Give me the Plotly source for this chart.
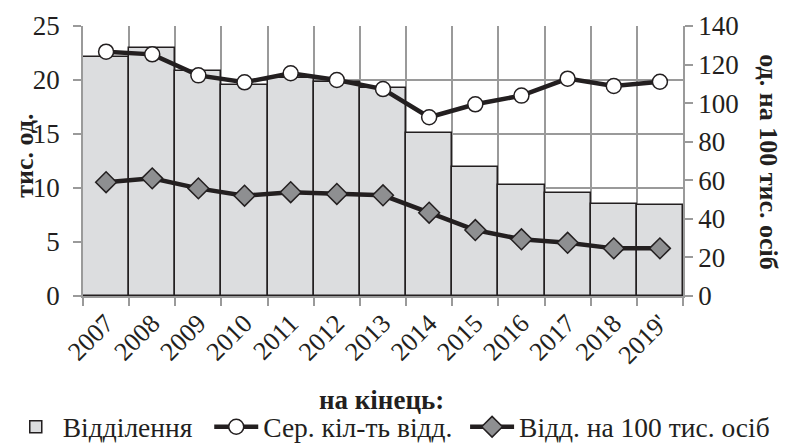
import plotly.graph_objects as go

years = ["2007", "2008", "2009", "2010", "2011", "2012", "2013",
         "2014", "2015", "2016", "2017", "2018", "2019'"]
branches = [22.1, 23.0, 20.8, 19.5, 20.2, 19.8, 19.3, 15.1, 11.9, 10.3, 9.5, 8.5, 8.45]
avg_branches = [126.7, 125.3, 114.4, 110.8, 115.5, 112.0, 107.3, 92.7, 99.4, 103.9, 112.7, 108.9, 111.1]
per_100k = [59.0, 61.0, 55.8, 52.0, 53.8, 52.9, 52.2, 43.2, 34.2, 29.4, 27.6, 24.7, 24.7]

FONT = "Liberation Serif"
INK = "#231f20"
GRID = "#9a9a9a"

fig = go.Figure()
fig.add_trace(go.Bar(
    x=years, y=branches, name="Відділення",
    marker=dict(color="#dcdddf", line=dict(color=INK, width=1.5)),
    yaxis="y", legend="legend",
))
fig.add_trace(go.Scatter(
    x=years, y=avg_branches, name="Сер. кіл-ть відд.", mode="lines+markers",
    line=dict(color=INK, width=4.5),
    marker=dict(symbol="circle", size=15, color="white", line=dict(color=INK, width=1.5)),
    yaxis="y2", legend="legend2",
))
fig.add_trace(go.Scatter(
    x=years, y=per_100k, name="Відд. на 100 тис. осіб", mode="lines+markers",
    line=dict(color=INK, width=4.5),
    marker=dict(symbol="diamond", size=16, color="#8e8f91", line=dict(color=INK, width=1.5)),
    yaxis="y2", legend="legend3",
))

def leg(x):
    return dict(orientation="h", x=x, xanchor="left", xref="container",
                y=0.048, yanchor="middle", yref="container",
                font=dict(family=FONT, size=27.5, color=INK),
                itemwidth=44, bgcolor="rgba(0,0,0,0)", borderwidth=0)

# page body has an 8px margin; figure is sized so the page layout matches
fig.update_layout(
    width=780, height=440,
    margin=dict(l=75, r=105, t=18, b=152, autoexpand=False),
    paper_bgcolor="white", plot_bgcolor="white",
    bargap=0,
    font=dict(family=FONT, size=26, color=INK),
    showlegend=True,
    legend=leg(0.001), legend2=leg(0.258), legend3=leg(0.586),
    xaxis=dict(type="category", tickson="boundaries", range=[-0.5, 12.5],
               showgrid=True, gridcolor=GRID,
               gridwidth=1.5, showline=True, linecolor=GRID, linewidth=1.5,
               ticks="outside", ticklen=8, tickcolor=GRID, tickwidth=1.5,
               tickangle=-45, tickfont=dict(family=FONT, size=26), mirror=False),
    yaxis=dict(range=[0, 25], dtick=5, showgrid=True, gridcolor=GRID, gridwidth=1.5,
               showline=True, linecolor=GRID, linewidth=1.5,
               ticks="outside", ticklen=8, tickcolor=GRID, tickwidth=1.5,
               ticklabelstandoff=8,
               tickfont=dict(family=FONT, size=27), zeroline=False),
    yaxis2=dict(range=[0, 140], dtick=20, overlaying="y", side="right", showgrid=False,
                showline=True, linecolor=GRID, linewidth=1.5,
                ticks="outside", ticklen=8, tickcolor=GRID, tickwidth=1.5,
                tickfont=dict(family=FONT, size=27), zeroline=False),
)

fig.add_annotation(text="<b>тис. од.</b>", xref="paper", yref="paper",
                   x=-0.098, y=0.52, xanchor="center", yanchor="middle",
                   textangle=-90, showarrow=False, font=dict(family=FONT, size=26))
fig.add_annotation(text="<b>од. на 100 тис. осіб</b>", xref="paper", yref="paper",
                   x=1.143, y=0.496, xanchor="center", yanchor="middle",
                   textangle=90, showarrow=False, font=dict(family=FONT, size=26))
fig.add_annotation(text="<b>на кінець:</b>", xref="paper", yref="paper",
                   x=0.497, y=-0.385, xanchor="center", yanchor="middle",
                   showarrow=False, font=dict(family=FONT, size=27))

fig.write_html("out.html")
